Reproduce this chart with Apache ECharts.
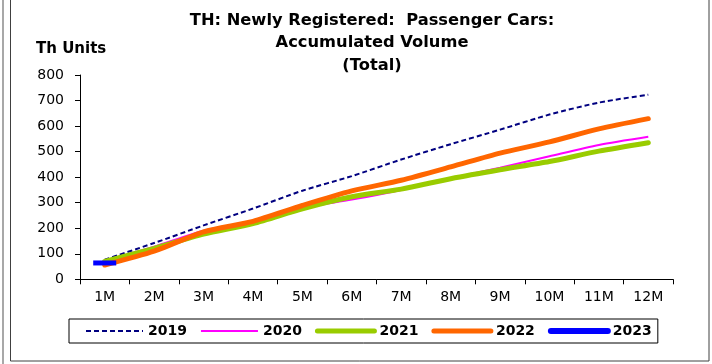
<!DOCTYPE html>
<html>
<head>
<meta charset="utf-8">
<script src="https://cdn.jsdelivr.net/npm/echarts@6/dist/echarts.min.js"></script>
<style>
  html, body { margin: 0; padding: 0; background: #fff; }
  #chart { width: 712px; height: 364px; }
</style>
</head>
<body>
<div id="chart"></div>
<script>
// Month labels on the category axis
const months = ['1M', '2M', '3M', '4M', '5M', '6M', '7M', '8M', '9M', '10M', '11M', '12M'];

// Accumulated newly registered passenger cars, thousand units
const v2019 = [77, 142, 211, 277, 347, 404, 469, 529, 586, 645, 692, 723];
const v2020 = [73, 128, 190, 227, 280, 312, 350, 395, 437, 482, 526, 558];
const v2021 = [70, 121, 177, 218, 276, 323, 353, 394, 429, 461, 502, 535];
const v2022 = [56, 110, 186, 227, 289, 346, 388, 440, 494, 538, 589, 629];
const v2023 = [64];

// Y axis ticks
const yTicks = { min: 0, max: 800, interval: 100 };

const FONT = 'DejaVu Sans';

const chart = echarts.init(document.getElementById('chart'), null, { renderer: 'canvas' });

chart.setOption({
  animation: false,
  backgroundColor: '#ffffff',
  textStyle: { fontFamily: FONT },
  grid: { left: 80, right: 39, top: 75, bottom: 84.7, containLabel: false },
  graphic: [
    // outer frame
    { type: 'rect', shape: { x: 10.5, y: -5, width: 698.5, height: 366 },
      style: { fill: 'none', stroke: '#404040', lineWidth: 1 }, silent: true },
    { type: 'line', shape: { x1: 3, y1: 0, x2: 3, y2: 364 },
      style: { stroke: '#a8a8a8', lineWidth: 2 }, silent: true },
    // chart title
    { type: 'text', x: 372, y: 43,
      style: { text: 'TH: Newly Registered:  Passenger Cars:\nAccumulated Volume\n(Total)',
        fontFamily: FONT, fontWeight: 'bold', fontSize: 16.3, lineHeight: 22.5,
        fill: '#000', align: 'center', verticalAlign: 'middle' } },
    // unit label
    { type: 'text', x: 36, y: 49,
      style: { text: 'Th Units', fontFamily: FONT, fontWeight: 'bold', fontSize: 15,
        fill: '#000', align: 'left', verticalAlign: 'middle' } }
  ],
  legend: {
    data: [
      { name: '2019', lineStyle: { width: 2 } },
      { name: '2020', lineStyle: { width: 2 } },
      { name: '2021', lineStyle: { width: 5, cap: 'round' } },
      { name: '2022', lineStyle: { width: 5, cap: 'round' } },
      { name: '2023', lineStyle: { width: 6, cap: 'round' } }
    ],
    left: 69, top: 319,
    orient: 'horizontal',
    itemWidth: 57, itemHeight: 6, itemGap: 13,
    padding: [5, 6, 5, 16],
    borderColor: '#000', borderWidth: 1,
    // only the line sample is shown, no point marker
    itemStyle: { opacity: 0 },
    textStyle: { fontFamily: FONT, fontWeight: 'bold', fontSize: 14, color: '#000' }
  },
  xAxis: {
    type: 'category',
    data: months,
    boundaryGap: true,
    axisLine: { lineStyle: { color: '#000', width: 1 } },
    axisTick: { show: true, length: 5, inside: false, lineStyle: { color: '#000' } },
    axisLabel: { fontFamily: FONT, fontSize: 14, color: '#000', margin: 11 },
    splitLine: { show: false }
  },
  yAxis: {
    type: 'value',
    min: yTicks.min, max: yTicks.max, interval: yTicks.interval,
    axisLine: { show: true, lineStyle: { color: '#000', width: 1 } },
    axisTick: { show: true, length: 5, inside: false, lineStyle: { color: '#000' } },
    axisLabel: { fontFamily: FONT, fontSize: 14, color: '#000', margin: 16 },
    splitLine: { show: false }
  },
  series: [
    { name: '2019', type: 'line', data: v2019, symbol: 'none', smooth: 0.25,
      itemStyle: { color: '#000080' },
      lineStyle: { color: '#000080', width: 2, type: [5, 3] } },
    { name: '2020', type: 'line', data: v2020, symbol: 'none', smooth: 0.25,
      itemStyle: { color: '#ff00ff' },
      lineStyle: { color: '#ff00ff', width: 2 } },
    { name: '2021', type: 'line', data: v2021, symbol: 'none', smooth: 0.25,
      itemStyle: { color: '#99cc00' },
      lineStyle: { color: '#99cc00', width: 5, cap: 'round' } },
    { name: '2022', type: 'line', data: v2022, symbol: 'none', smooth: 0.25,
      itemStyle: { color: '#ff6600' },
      lineStyle: { color: '#ff6600', width: 5, cap: 'round' } },
    { name: '2023', type: 'line', data: v2023, symbol: 'rect', symbolSize: [23, 5],
      showSymbol: true,
      itemStyle: { color: '#0000ff' },
      lineStyle: { color: '#0000ff', width: 5, cap: 'round' } }
  ]
});
</script>
</body>
</html>
